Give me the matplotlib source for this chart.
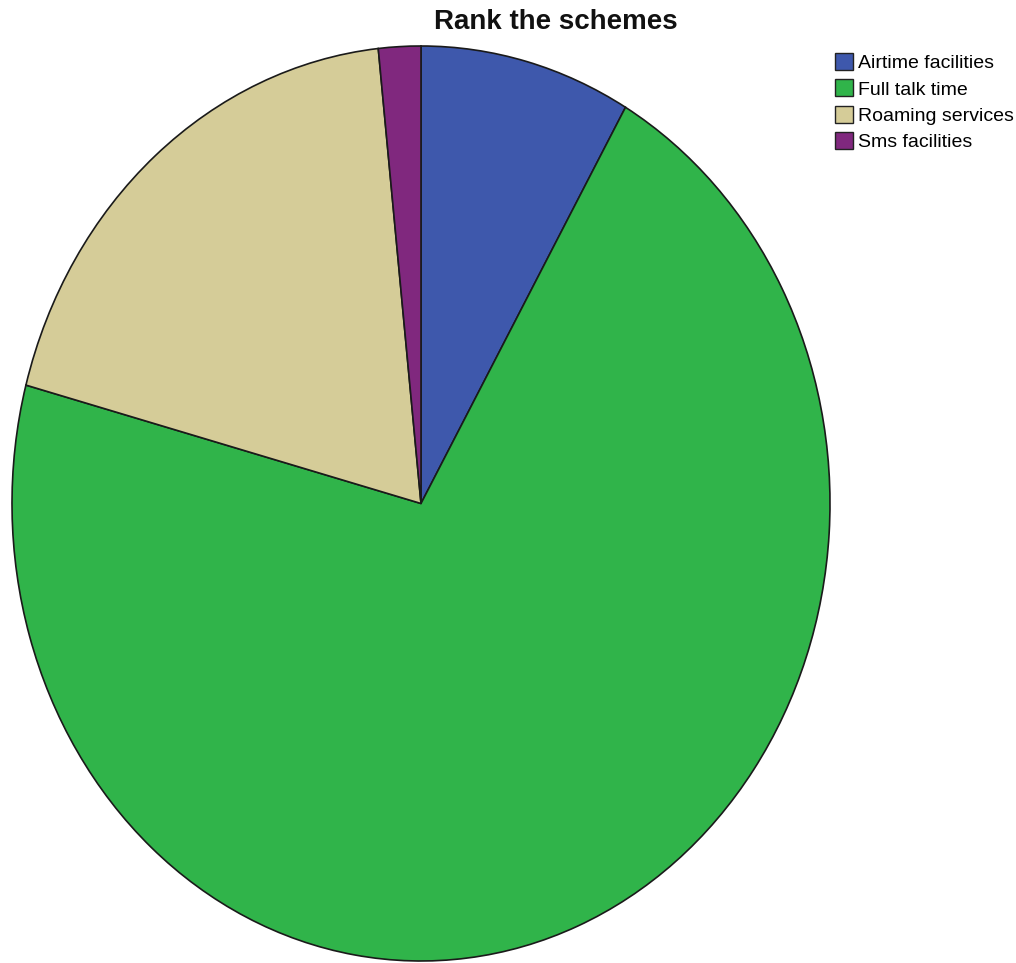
import matplotlib
matplotlib.use("Agg")
import matplotlib.pyplot as plt
from matplotlib.patches import Patch

plt.rcParams['font.family'] = ['Liberation Sans', 'DejaVu Sans']

categories = ["Airtime facilities", "Full talk time", "Roaming services", "Sms facilities"]
counts = [10, 85, 23, 2]
colors = ["#3e58ac", "#30b44a", "#d5cc98", "#80287e"]

W, H = 1016, 963
fig = plt.figure(figsize=(W / 100, H / 100), dpi=100)

# pie area (SPSS-style stretched ellipse)
left, right, top, bottom = 12, 830, 46, 961
ax = fig.add_axes([left / W, (H - bottom) / H, (right - left) / W, (bottom - top) / H])
ax.pie(counts, colors=colors, startangle=90, counterclock=False,
       wedgeprops=dict(edgecolor="#1a1a1a", linewidth=1.2))
ax.set_aspect('auto')
ax.set_xlim(-1.0, 1.0)
ax.set_ylim(-1.0, 1.0)
ax.axis('off')

fig.text(556 / W, 1 - 22 / H, "Rank the schemes", ha="center", va="center",
         fontsize=20, fontweight="bold", color="#111111")

handles = [Patch(facecolor=c, edgecolor="#222222", linewidth=1.0) for c in colors]
fig.legend(handles, categories, loc="upper left",
           bbox_to_anchor=(835 / W, 1 - 53 / H), frameon=False,
           fontsize=14, handlelength=0.95, handleheight=0.95, handletextpad=0.25,
           labelspacing=0.38, borderpad=0, borderaxespad=0)

fig.savefig("out.png", dpi=100, facecolor="white")
